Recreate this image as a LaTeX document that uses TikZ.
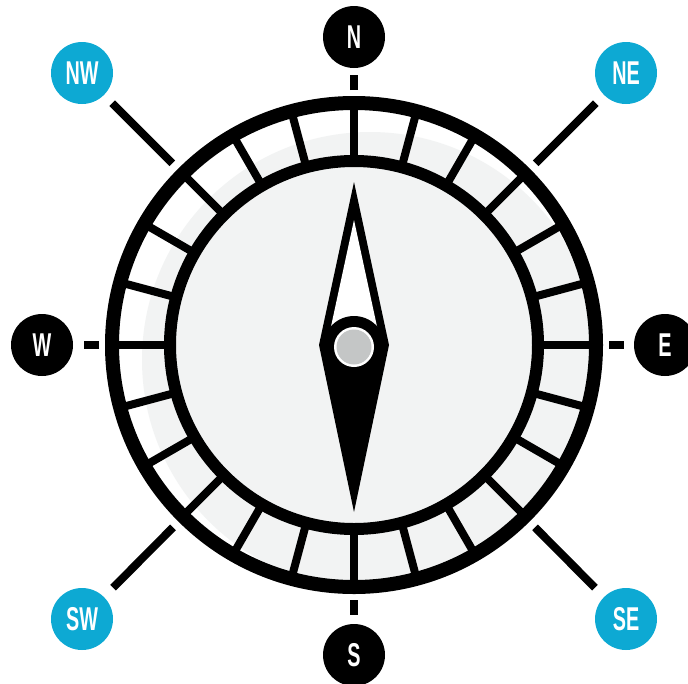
\documentclass[tikz,border=0pt]{standalone}
\usepackage{fontspec}
\newfontfamily\labfont[FakeStretch=0.6]{Liberation Sans}
\usetikzlibrary{calc}
\definecolor{face}{RGB}{242,243,243}
\definecolor{pivotgrey}{RGB}{196,198,198}
\definecolor{cblue}{RGB}{13,169,211}
\begin{document}
\begin{tikzpicture}[x=1pt,y=-1pt,
  lab/.style={circle, minimum size=62pt, inner sep=0pt, text=white,
    font=\labfont\bfseries\fontsize{33}{33}\selectfont},
  card/.style={lab, fill=black},
  inter/.style={lab, fill=cblue},
  bar/.style={line width=8pt, black},
  spoke/.style={line width=8pt, black}]
\useasboundingbox (0,0) rectangle (688,683);
\coordinate (c) at (354,345);
% labels
\node[card] (N) at (354,37) {N};
\node[card] (S) at (354,655) {S};
\node[card] (W) at (42,345) {W};
\node[card] (E) at (665,345) {E};
\node[inter] (NE) at (626,73) {NE};
\node[inter] (NW) at (82,73) {NW};
\node[inter] (SW) at (82,619) {SW};
\node[inter] (SE) at (626,619) {SE};
% ticks and diagonal connectors
\foreach \n in {N,S,W,E}
  \draw[bar] ($(c)!255pt!(\n)$) -- ($(c)!270pt!(\n)$);
\foreach \n in {NE,NW,SW,SE}
  \draw[bar] ($(c)!257pt!(\n)$) -- ($(c)!342pt!(\n)$);
% dial
\fill[white] (c) circle (242pt);
\begin{scope}
  \clip (c) circle (242pt);
  \fill[face] (370,360) circle (228pt);
\end{scope}
\foreach \a in {0,15,...,345}
  \draw[spoke] ($(c)+(\a:184pt)$) -- ($(c)+(\a:242pt)$);
\draw[line width=14pt] (c) circle (242pt);
\draw[line width=12pt] (c) circle (184pt);
% needle
\fill[black] (354,182) -- (389,345) -- (354,512) -- (319,345) -- cycle;
\fill[white] (354,220) -- (381,345) -- (327,345) -- cycle;
\fill[black] (354,347) circle (31pt);
\fill[white] (354,347) circle (20pt);
\fill[pivotgrey] (354,347) circle (17.5pt);
\end{tikzpicture}
\end{document}
